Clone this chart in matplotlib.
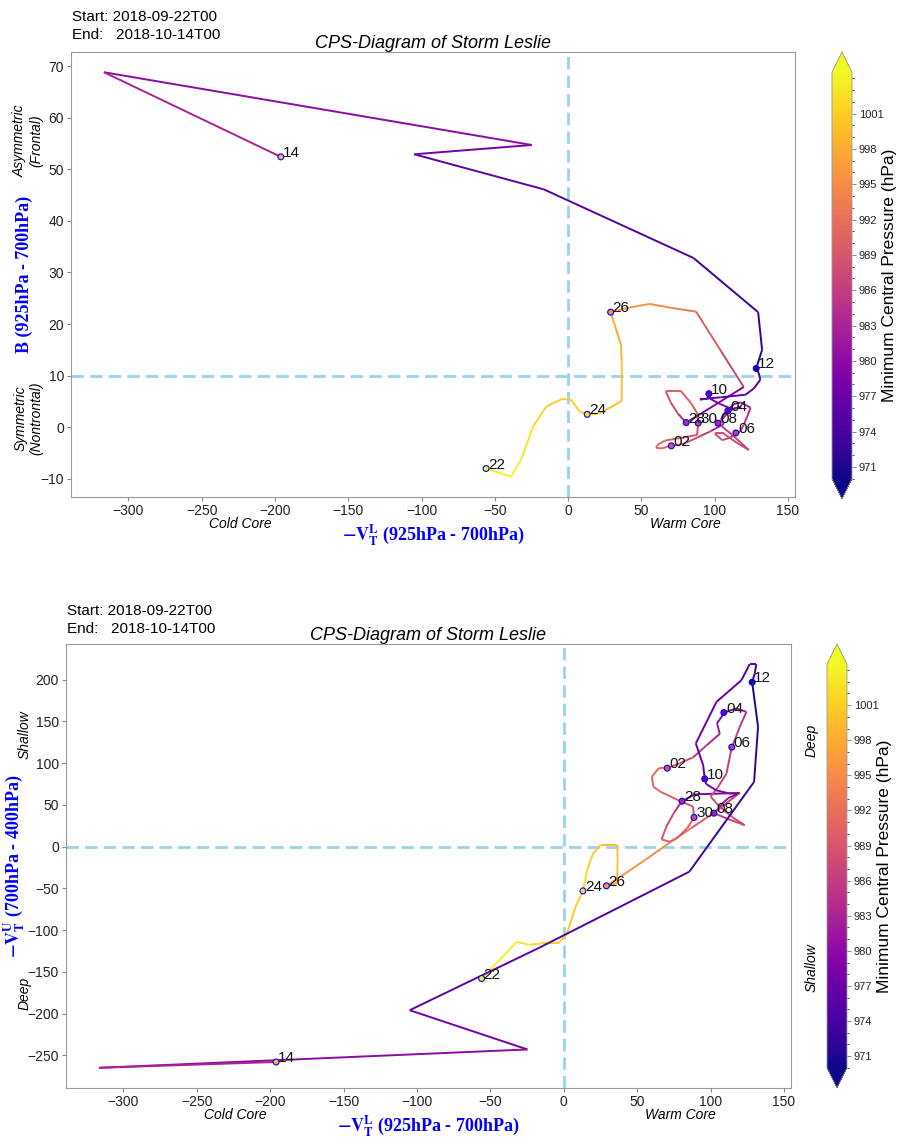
import matplotlib
matplotlib.use("Agg")
import matplotlib.pyplot as plt
import matplotlib.ticker as ticker
import numpy as np
from matplotlib.collections import LineCollection
from matplotlib.colors import Normalize

plt.rcParams["font.family"] = ["Liberation Sans", "DejaVu Sans"]
plt.rcParams["mathtext.fontset"] = "stix"

START = "2018-09-22T00"
END = "2018-10-14T00"
TITLE = "CPS-Diagram of Storm Leslie"

# 6-hourly track, 2018-09-22T00 .. 2018-10-14T00 (89 points)
# -VT^L (925-700 hPa)
vtl = [
    -56, -39, -32, -24, -15, -4, 2, 8,                  # 22
    13, 16, 20, 25, 36.5, 36.6, 36.5, 36,               # 24
    29, 42, 55.5, 71, 87.3, 103.5, 119.8, 89.3,         # 26
    80.5, 75, 70, 66.5, 72, 77, 84, 88,                 # 28
    88.7, 88, 78, 66, 61, 60, 64.4, 67,                 # 30
    70.4, 79, 88.1, 97, 106.2, 104.4, 106, 108,         # 02
    109, 113, 117.6, 124.4, 122, 119.8, 118, 116.4,     # 04
    114.4, 110.8, 105.1, 100, 106, 115, 123.2, 112,     # 06
    102.2, 105, 108, 112, 118, 112, 103.6, 97,          # 08
    96, 94.9, 89.9, 104, 121, 126.6, 131.1, 130,        # 10
    128.3, 132.3, 129.6, 85.5, -16.6, -105, -24.8, -316.7,  # 12
    -196,                                               # 14
]
# B (925-700 hPa)
b_par = [
    -8, -9.6, -6.2, 0.1, 4.0, 5.5, 5.3, 3.0,
    2.5, 2.5, 2.6, 3.2, 5.1, 9.8, 13, 16,
    22.3, 23.2, 23.9, 23.1, 22.4, 15.1, 7.8, 2.4,
    0.9, 2.6, 4.8, 7.0, 7.0, 7.0, 4.6, 2.7,
    0.8, -1.5, -2.0, -2.6, -3.4, -4.0, -4.1, -3.8,
    -3.6, -3.2, -2.0, -0.8, 0.6, 1.6, 2.5, 3.0,
    3.2, 4.5, 4.8, 3.8, 2.0, 0.5, -0.5, -1.0,
    -1.1, -2.0, -2.5, -1.2, -1.2, -3.0, -4.4, -1.5,
    0.8, 1.5, 2.5, 3.5, 4.0, 3.5, 4.5, 5.5,
    6.5, 5.5, 5.4, 5.8, 6.3, 7.5, 9.2, 10.5,
    11.4, 15.0, 22.3, 32.8, 46.1, 52.9, 54.7, 68.8,
    52.4,
]
# -VT^U (700-400 hPa)
vtu = [
    -158, -127, -114, -117.6, -116, -116, -105, -72,
    -53, -27, -8, 1.8, 1.8, -15, -30, -44,
    -47, -31.9, -15.8, 3.4, 22.8, 42, 64.4, 62.6,
    54.5, 40.5, 24.6, 8.6, 6, 10, 22, 33,
    35, 48, 55.6, 65.6, 71.6, 83.6, 93.6, 94.5,
    94, 100, 107, 121, 135, 148, 152, 157,
    160.7, 163, 165.5, 161.5, 152, 143.5, 135, 127.6,
    119.2, 87.6, 71.6, 60, 48, 35, 25.7, 33,
    40.1, 45, 51.7, 58, 63, 64, 67.6, 75,
    81.2, 97.6, 123.6, 173.5, 199.4, 218.6, 218.6, 207,
    197, 143.5, 77.6, -30, -121, -196, -243, -265,
    -258,
]
# minimum central pressure (hPa)
pres = [
    1004, 1004, 1003, 1002, 1001, 1001, 1001, 1001,
    1002, 1001, 1001, 1000, 1000, 1000, 999, 998,
    996, 996, 995, 993, 990, 987, 979, 979,
    984, 987, 989, 990, 990, 990, 990, 988,
    988, 989, 990, 991, 991, 991, 990, 990,
    989, 988, 986, 984, 982, 980, 979, 979,
    978, 980, 982, 984, 985, 986, 986, 986,
    986, 987, 988, 988, 988, 988, 987, 986,
    984, 982, 981, 980, 979, 979, 978, 978,
    977, 977, 977, 976, 975, 974, 973, 972,
    971, 972, 973, 975, 976, 978, 980, 983,
    999,
]
day_labels = ["22", "24", "26", "28", "30", "02", "04", "06", "08", "10", "12", "14"]

CB_TICKS = np.arange(971, 1002, 3)
norm = Normalize(vmin=970, vmax=1004.5)
cmap = plt.get_cmap("plasma")
DASH = "#9dd3ea"
SERIF = ["Liberation Serif", "DejaVu Serif"]


def draw_panel(fig, rect, cax_rect, y, y_step, y_ref, ylabel, ylabel_x,
               side_top, side_bot, side_pos, right_labels=None):
    ax = fig.add_axes(rect)
    x = np.asarray(vtl, float)
    y = np.asarray(y, float)
    p = np.asarray(pres, float)
    pts = np.column_stack([x, y]).reshape(-1, 1, 2)
    segs = np.concatenate([pts[:-1], pts[1:]], axis=1)
    lc = LineCollection(segs, cmap=cmap, norm=norm, linewidths=1.4, zorder=2)
    lc.set_array(p[:-1])
    ax.add_collection(lc)
    ax.autoscale_view()

    idx = np.arange(0, len(x), 8)
    ax.scatter(x[idx], y[idx], c=p[idx], cmap=cmap, norm=norm, s=18,
               edgecolors="blue", linewidths=0.8, zorder=3)
    for i, lab in zip(idx, day_labels):
        ax.annotate(lab, (x[i], y[i]), xytext=(1.5, 0), textcoords="offset points",
                    fontsize=11, color="#111111", zorder=4)

    ax.axvline(0, color=DASH, lw=2, ls=(0, (4.5, 2.2)), zorder=1)
    ax.axhline(y_ref, color=DASH, lw=2, ls=(0, (4.5, 2.2)), zorder=1)

    ax.xaxis.set_major_locator(ticker.MultipleLocator(50))
    ax.yaxis.set_major_locator(ticker.MultipleLocator(y_step))
    ax.tick_params(labelsize=10, labelcolor="#222222", color="#888888",
                   length=3, width=0.8, pad=2)
    for sp in ax.spines.values():
        sp.set_color("#9a9a9a")

    ax.set_title(TITLE, fontsize=13, style="italic", pad=3)
    ax.set_xlabel(r"$\mathbf{-V_T^L}$ (925hPa - 700hPa)", color="blue",
                  fontsize=13, family=SERIF, weight="bold", va="center")
    ax.xaxis.set_label_coords(0.5, -0.085)
    ax.set_ylabel(ylabel, color="blue", fontsize=13, family=SERIF,
                  weight="bold", va="center")
    ax.yaxis.set_label_coords(ylabel_x, 0.5)

    ax.text(0.234, -0.06, "Cold Core", transform=ax.transAxes, style="italic",
            fontsize=10, ha="center", va="center")
    ax.text(0.848, -0.06, "Warm Core", transform=ax.transAxes, style="italic",
            fontsize=10, ha="center", va="center")
    ax.text(side_pos[0], side_pos[1], side_top, transform=ax.transAxes,
            style="italic", fontsize=10, rotation=90, ha="center", va="center")
    ax.text(side_pos[0], side_pos[2], side_bot, transform=ax.transAxes,
            style="italic", fontsize=10, rotation=90, ha="center", va="center")
    if right_labels:
        for ty, tx in right_labels:
            ax.text(1.029, ty, tx, transform=ax.transAxes, style="italic",
                    fontsize=10, rotation=90, ha="center", va="center")

    cax = fig.add_axes(cax_rect)
    sm = plt.cm.ScalarMappable(norm=norm, cmap=cmap)
    cb = fig.colorbar(sm, cax=cax, extend="both", ticks=CB_TICKS)
    cb.ax.yaxis.set_minor_locator(ticker.MultipleLocator(1))
    cb.ax.tick_params(labelsize=8, labelcolor="#222222", color="#777777",
                      length=3, width=0.6, pad=2)
    cb.ax.tick_params(which="minor", length=1.5, width=0.5)
    cb.outline.set_edgecolor("#999999")
    cb.outline.set_linewidth(0.6)
    cb.ax.set_ylabel("Minimum Central Pressure (hPa)", fontsize=12.5,
                     rotation=90, va="center")
    cb.ax.yaxis.set_label_coords(2.9, 0.5)
    return ax


W, H = 899, 1137
fig = plt.figure(figsize=(W / 100, H / 100), dpi=100)

# top panel: B vs -VT^L
draw_panel(
    fig,
    [71 / W, 1 - 497 / H, 724 / W, 445 / H],
    [832 / W, 1 - 499 / H, 20 / W, 447 / H],
    b_par, 10, 10,
    "B (925hPa - 700hPa)", -0.065,
    "Asymmetric\n(Frontal)", "Symmetric\n(Nontrontal)",
    (-0.059, 0.80, 0.177),
)
fig.text(72 / W, 1 - 17 / H, f"Start: {START}", fontsize=11, va="center")
fig.text(72 / W, 1 - 35 / H, f"End:   {END}", fontsize=11, va="center")

# bottom panel: -VT^U vs -VT^L
draw_panel(
    fig,
    [66 / W, 1 - 1088 / H, 725 / W, 444 / H],
    [827 / W, 1 - 1088 / H, 20 / W, 444 / H],
    vtu, 50, 0,
    r"$\mathbf{-V_T^U}$ (700hPa - 400hPa)", -0.071,
    "Shallow", "Deep",
    (-0.057, 0.795, 0.214),
    right_labels=[(0.784, "Deep"), (0.27, "Shallow")],
)
fig.text(67 / W, 1 - 611 / H, f"Start: {START}", fontsize=11, va="center")
fig.text(67 / W, 1 - 629 / H, f"End:   {END}", fontsize=11, va="center")

fig.savefig("out.png", dpi=100)
